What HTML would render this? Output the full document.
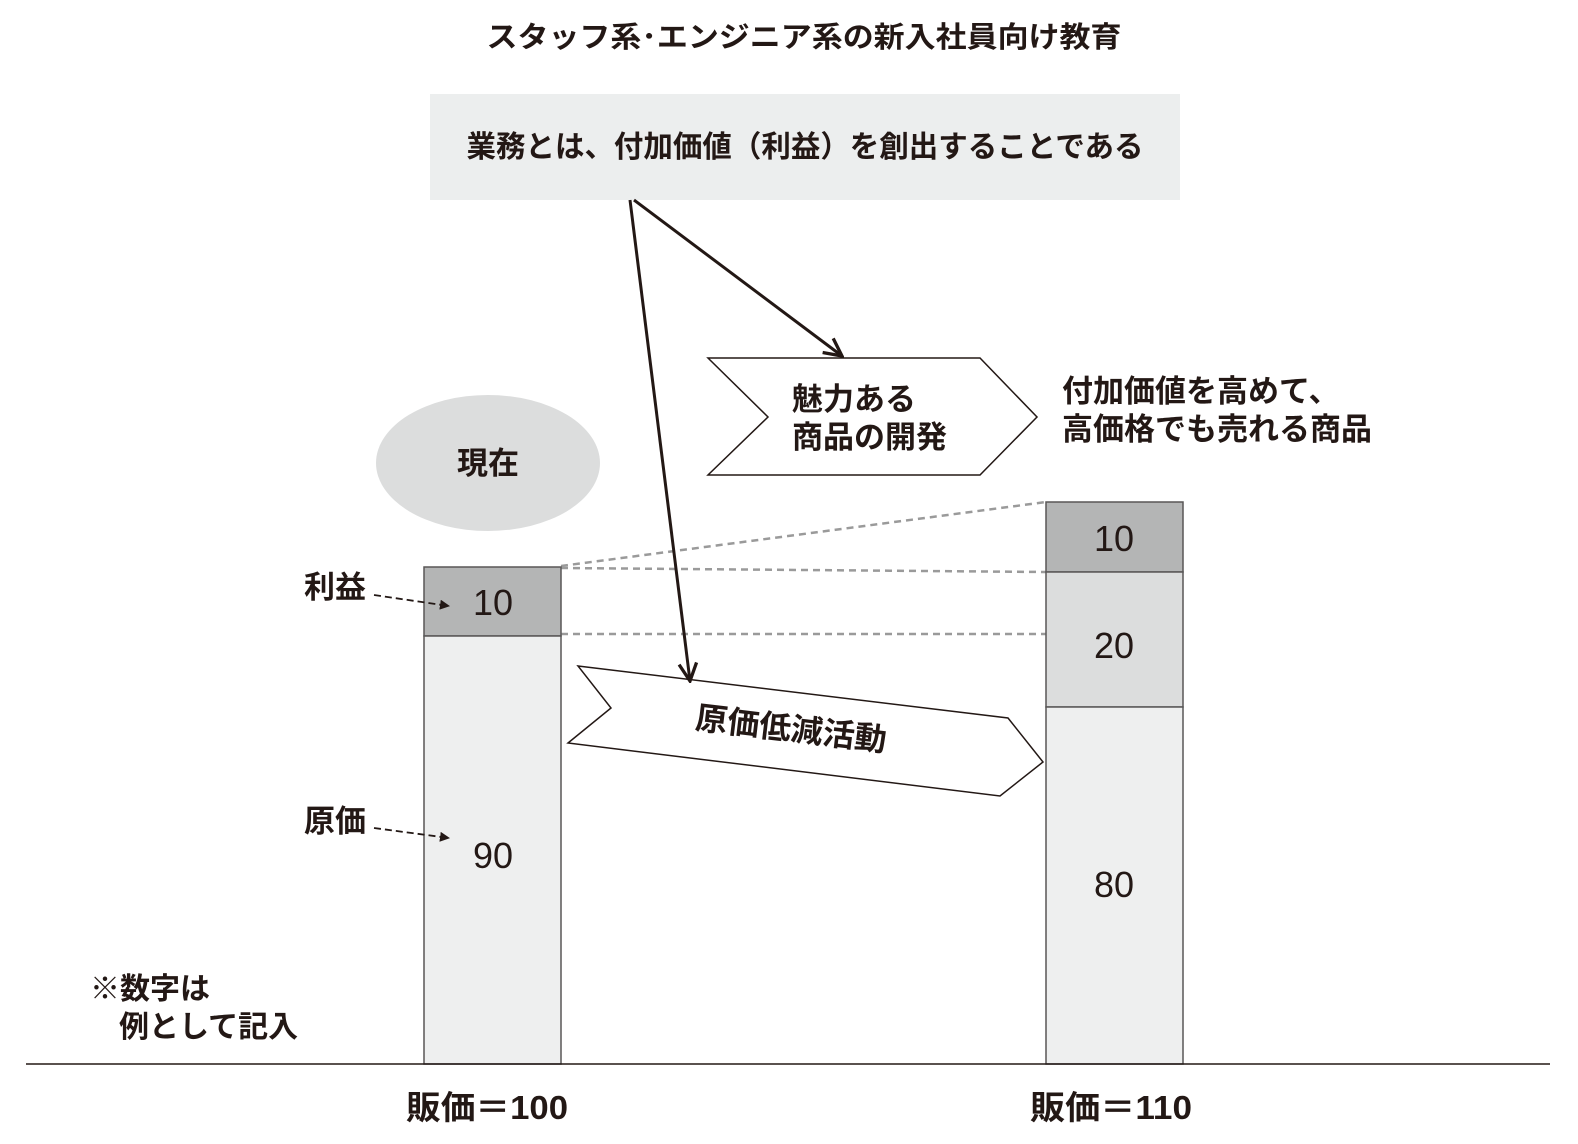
<!DOCTYPE html>
<html><head><meta charset="utf-8"><style>
html,body{margin:0;padding:0;background:#fff;}
svg{display:block;}
text{font-family:"Liberation Sans","Noto Sans CJK JP",sans-serif;fill:#231815;}
</style></head><body>
<svg width="1578" height="1144" viewBox="0 0 1578 1144" xmlns="http://www.w3.org/2000/svg">
<defs>
<marker id="ah" viewBox="0 0 10 10" refX="9" refY="5" markerWidth="10" markerHeight="10" orient="auto" markerUnits="userSpaceOnUse">
<path d="M0,0 L10,5 L0,10 Z" fill="#231815"/></marker>
<marker id="oa" viewBox="0 0 20 20" refX="18" refY="10" markerWidth="22" markerHeight="22" orient="auto" markerUnits="userSpaceOnUse">
<path d="M2,2 L18,10 L2,18" fill="none" stroke="#231815" stroke-width="3"/></marker>
</defs>
<text x="804" y="47" font-size="29" font-weight="bold" text-anchor="middle" textLength="635" lengthAdjust="spacingAndGlyphs">スタッフ系･エンジニア系の新入社員向け教育</text>
<rect x="430" y="94" width="750" height="106" fill="#eceeee"/>
<text x="805" y="157" font-size="30" font-weight="bold" text-anchor="middle" textLength="677" lengthAdjust="spacingAndGlyphs">業務とは、付加価値（利益）を創出することである</text>

<ellipse cx="488" cy="463" rx="112" ry="68" fill="#dcdddd"/>
<text x="488" y="474" font-size="31" font-weight="bold" text-anchor="middle">現在</text>

<g stroke="#9a9a9a" stroke-width="2.5" stroke-dasharray="7,5" fill="none">
<line x1="561" y1="566" x2="1046" y2="502"/>
<line x1="561" y1="568" x2="1046" y2="572"/>
<line x1="561" y1="634" x2="1046" y2="634"/>
</g>

<rect x="424" y="567" width="137" height="69" fill="#b4b5b5" stroke="#595757" stroke-width="1.5"/>
<rect x="424" y="636" width="137" height="428" fill="#eeefef" stroke="#595757" stroke-width="1.5"/>
<text x="493" y="615" font-size="36" text-anchor="middle">10</text>
<text x="493" y="868" font-size="36" text-anchor="middle">90</text>

<rect x="1046" y="502" width="137" height="70" fill="#b4b5b5" stroke="#595757" stroke-width="1.5"/>
<rect x="1046" y="572" width="137" height="135" fill="#dcdddd" stroke="#595757" stroke-width="1.5"/>
<rect x="1046" y="707" width="137" height="357" fill="#eeefef" stroke="#595757" stroke-width="1.5"/>
<text x="1114" y="551" font-size="36" text-anchor="middle">10</text>
<text x="1114" y="658" font-size="36" text-anchor="middle">20</text>
<text x="1114" y="897" font-size="36" text-anchor="middle">80</text>

<line x1="26" y1="1064" x2="1550" y2="1064" stroke="#231815" stroke-width="1.5"/>

<polygon points="708,358 980,358 1037,417 980,475 708,475 768,417" fill="#fff" stroke="#231815" stroke-width="1.5"/>
<text x="792" y="410" font-size="31" font-weight="bold">魅力ある</text>
<text x="792" y="448" font-size="31" font-weight="bold">商品の開発</text>
<polygon points="578,666 1008,718 1043,762 1000,796 568,743 611,708" fill="#fff" stroke="#231815" stroke-width="1.5"/>
<text x="791" y="740" font-size="32" font-weight="bold" text-anchor="middle" transform="rotate(6.8 791 730)">原価低減活動</text>

<text x="1062" y="402" font-size="31" font-weight="bold">付加価値を高めて、</text>
<text x="1062" y="440" font-size="31" font-weight="bold">高価格でも売れる商品</text>

<line x1="634" y1="200" x2="842" y2="356" stroke="#231815" stroke-width="3" marker-end="url(#oa)"/>
<line x1="630" y1="200" x2="690" y2="681" stroke="#231815" stroke-width="3" marker-end="url(#oa)"/>

<text x="304" y="598" font-size="31" font-weight="bold">利益</text>
<line x1="374" y1="595" x2="449" y2="606" stroke="#231815" stroke-width="1.8" stroke-dasharray="7,4" marker-end="url(#ah)"/>
<text x="304" y="832" font-size="31" font-weight="bold">原価</text>
<line x1="374" y1="828" x2="449" y2="838" stroke="#231815" stroke-width="1.8" stroke-dasharray="7,4" marker-end="url(#ah)"/>

<text x="90" y="999" font-size="30" font-weight="bold">※数字は</text>
<text x="119" y="1037" font-size="30" font-weight="bold">例として記入</text>

<text x="487" y="1119" font-size="33" font-weight="bold" text-anchor="middle" textLength="162" lengthAdjust="spacingAndGlyphs">販価＝100</text>
<text x="1111" y="1119" font-size="33" font-weight="bold" text-anchor="middle" textLength="162" lengthAdjust="spacingAndGlyphs">販価＝110</text>
</svg>
</body></html>
